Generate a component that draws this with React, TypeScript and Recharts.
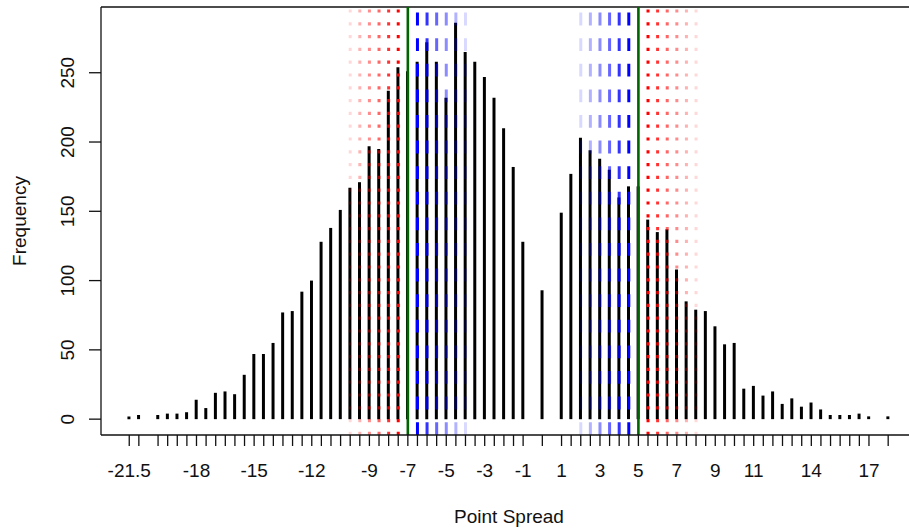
import React from "react";
import { ComposedChart, Bar, XAxis, YAxis, ReferenceLine } from "recharts";

// point spread values (half-point steps, some missing) and how often each occurred
const SPREADS = [
  -21.5, -21, -20, -19.5, -19, -18.5, -18, -17.5, -17, -16.5, -16, -15.5, -15, -14.5, -14,
  -13.5, -13, -12.5, -12, -11.5, -11, -10.5, -10, -9.5, -9, -8.5, -8, -7.5, -7, -6.5, -6,
  -5.5, -5, -4.5, -4, -3.5, -3, -2.5, -2, -1.5, -1, 0, 1, 1.5, 2, 2.5, 3, 3.5, 4, 4.5, 5,
  5.5, 6, 6.5, 7, 7.5, 8, 8.5, 9, 9.5, 10, 10.5, 11, 11.5, 12, 12.5, 13, 13.5, 14, 14.5,
  15, 15.5, 16, 16.5, 17, 18,
];
const FREQS = [
  2, 3, 3, 4, 4, 5, 14, 8, 19, 20, 18, 32, 47, 47, 55,
  77, 78, 92, 100, 128, 138, 151, 167, 171, 197, 195, 237, 254, 251, 258, 272,
  258, 232, 286, 265, 258, 247, 232, 210, 182, 128, 93, 149, 177, 203, 194, 188, 180, 160, 168, 168,
  144, 135, 137, 108, 85, 79, 78, 67, 54, 55, 22, 24, 17, 20, 11, 15, 9, 12, 7,
  3, 3, 3, 4, 2, 2,
];
const X_LABELS = [-21.5, -18, -15, -12, -9, -7, -5, -3, -1, 1, 3, 5, 7, 9, 11, 14, 17];
const Y_TICKS = [0, 50, 100, 150, 200, 250];

const GREEN_LINES = [-7, 5];
const RED_LINES = [-10, -9.5, -9, -8.5, -8, -7.5, 5.5, 6, 6.5, 7, 7.5, 8];
const RED_ALPHA = [0.15, 0.3, 0.45, 0.6, 0.8, 1, 1, 0.8, 0.6, 0.45, 0.3, 0.15];
const BLUE_LINES = [-6.5, -6, -5.5, -5, -4.5, -4, 2, 2.5, 3, 3.5, 4, 4.5];
const BLUE_ALPHA = [1, 0.8, 0.6, 0.45, 0.3, 0.15, 0.15, 0.3, 0.45, 0.6, 0.8, 1];

const data = SPREADS.map((x, i) => ({ x, freq: FREQS[i] }));

const X_DOMAIN = [-22.97, 19.5];
const Y_DOMAIN = [-11.44, 297.44];
const FONT = "'Liberation Sans', Arial, sans-serif";
const INK = "#111";
const PLOT_BOTTOM = 435;

function XTick(props: any) {
  const v = props.payload.value;
  if (!X_LABELS.includes(v)) return null;
  return (
    <text x={props.x} y={PLOT_BOTTOM + 42} textAnchor="middle" fontSize={19} fontFamily={FONT} fill={INK}>
      {v}
    </text>
  );
}

function YTick(props: any) {
  const bx = 74;
  return (
    <text
      x={bx}
      y={props.y}
      transform={`rotate(-90, ${bx}, ${props.y})`}
      textAnchor="middle"
      fontSize={19}
      fontFamily={FONT}
      fill={INK}
    >
      {props.payload.value}
    </text>
  );
}

export default function App() {
  return (
    <div style={{ position: "fixed", left: 0, top: 0, width: 909, height: 529, overflow: "hidden", background: "#fff" }}>
      <ComposedChart width={930} height={529} data={data} margin={{ top: 7, right: 13, bottom: 34, left: 41 }}>
        <XAxis
          dataKey="x"
          type="number"
          domain={X_DOMAIN}
          ticks={SPREADS}
          interval={0}
          height={60}
          tickSize={11}
          tick={<XTick />}
          stroke={INK}
          axisLine={{ stroke: INK, strokeWidth: 1.3 }}
          tickLine={{ stroke: INK, strokeWidth: 1.3 }}
          label={(p: any) => (
            <text
              x={p.viewBox.x + p.viewBox.width / 2}
              y={p.viewBox.y + 88}
              textAnchor="middle"
              fontSize={19}
              fontFamily={FONT}
              fill={INK}
            >
              Point Spread
            </text>
          )}
        />
        <YAxis
          type="number"
          domain={Y_DOMAIN}
          ticks={Y_TICKS}
          interval={0}
          width={60}
          tickSize={12}
          tick={<YTick />}
          axisLine={{ stroke: INK, strokeWidth: 1.3 }}
          tickLine={{ stroke: INK, strokeWidth: 1.3 }}
          label={(p: any) => {
            const cx = 26;
            const cy = p.viewBox.y + p.viewBox.height / 2;
            return (
              <text
                x={cx}
                y={cy}
                transform={`rotate(-90, ${cx}, ${cy})`}
                textAnchor="middle"
                fontSize={19}
                fontFamily={FONT}
                fill={INK}
              >
                Frequency
              </text>
            );
          }}
        />
        <Bar dataKey="freq" fill="#000" barSize={3} isAnimationActive={false} />
        <ReferenceLine y={Y_DOMAIN[1]} stroke={INK} strokeWidth={1.3} />
        {RED_LINES.map((v, i) => (
          <ReferenceLine
            key={"r" + v}
            x={v}
            stroke="#ff0000"
            strokeOpacity={RED_ALPHA[i]}
            strokeWidth={3}
            strokeDasharray="3.2 9.6"
          />
        ))}
        {BLUE_LINES.map((v, i) => (
          <ReferenceLine
            key={"b" + v}
            x={v}
            stroke="#0000ff"
            strokeOpacity={BLUE_ALPHA[i]}
            strokeWidth={3}
            strokeDasharray="12.8 12.8"
          />
        ))}
        {GREEN_LINES.map((v) => (
          <ReferenceLine key={"g" + v} x={v} stroke="#006400" strokeWidth={2.6} />
        ))}
      </ComposedChart>
    </div>
  );
}
